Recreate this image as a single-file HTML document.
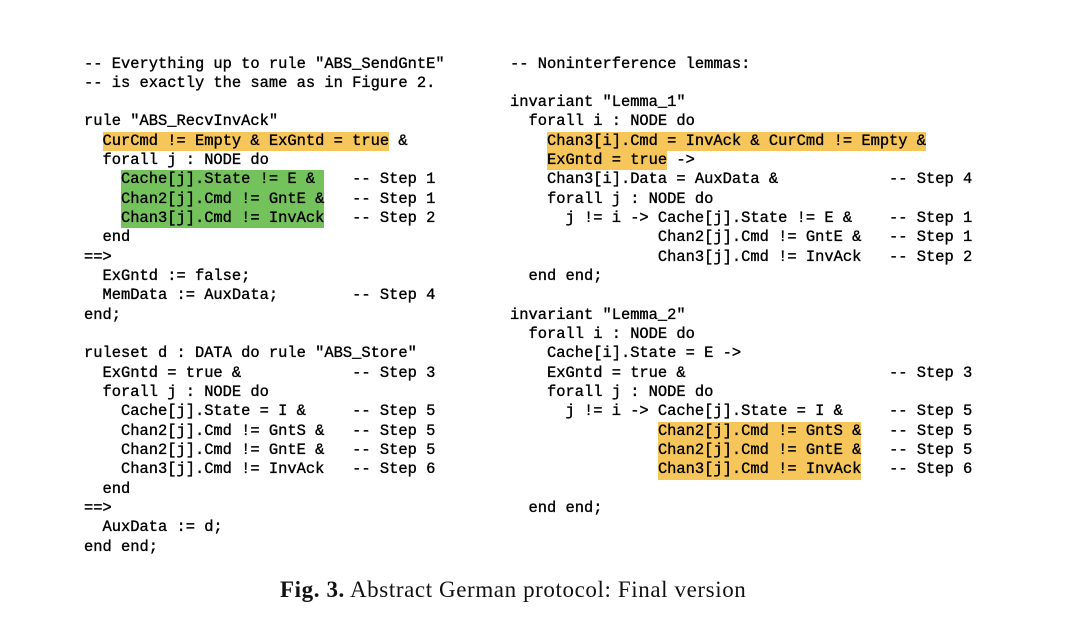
<!DOCTYPE html>
<html><head><meta charset="utf-8">
<style>
html,body{margin:0;padding:0;background:#fff;}
body{width:1066px;height:624px;position:relative;overflow:hidden;}
.col{position:absolute;top:54.5px;font-family:"Liberation Mono",monospace;font-size:15.42px;color:#000;-webkit-text-stroke:0.35px #000;}
.l{white-space:pre;height:19.33px;line-height:19.33px;}
.o{background:#f7c65b;display:inline-block;height:19.33px;vertical-align:top;}
.g{background:#74c25c;display:inline-block;height:19.33px;vertical-align:top;}
.cap{position:absolute;left:280px;top:577px;font-family:"Liberation Serif",serif;font-size:23px;letter-spacing:0.6px;color:#111;white-space:nowrap;}
</style></head><body>
<div class="col" style="left:84px">
<div class="l">-- Everything up to rule "ABS_SendGntE"</div>
<div class="l">-- is exactly the same as in Figure 2.</div>
<div class="l"> </div>
<div class="l">rule "ABS_RecvInvAck"</div>
<div class="l">  <span class="o">CurCmd != Empty &amp; ExGntd = true</span> &amp;</div>
<div class="l">  forall j : NODE do</div>
<div class="l">    <span class="g">Cache[j].State != E &amp; </span>   -- Step 1</div>
<div class="l">    <span class="g">Chan2[j].Cmd != GntE &amp;</span>   -- Step 1</div>
<div class="l">    <span class="g">Chan3[j].Cmd != InvAck</span>   -- Step 2</div>
<div class="l">  end</div>
<div class="l">==&gt;</div>
<div class="l">  ExGntd := false;</div>
<div class="l">  MemData := AuxData;        -- Step 4</div>
<div class="l">end;</div>
<div class="l"> </div>
<div class="l">ruleset d : DATA do rule "ABS_Store"</div>
<div class="l">  ExGntd = true &amp;            -- Step 3</div>
<div class="l">  forall j : NODE do</div>
<div class="l">    Cache[j].State = I &amp;     -- Step 5</div>
<div class="l">    Chan2[j].Cmd != GntS &amp;   -- Step 5</div>
<div class="l">    Chan2[j].Cmd != GntE &amp;   -- Step 5</div>
<div class="l">    Chan3[j].Cmd != InvAck   -- Step 6</div>
<div class="l">  end</div>
<div class="l">==&gt;</div>
<div class="l">  AuxData := d;</div>
<div class="l">end end;</div>
</div>
<div class="col" style="left:510px">
<div class="l">-- Noninterference lemmas:</div>
<div class="l"> </div>
<div class="l">invariant "Lemma_1"</div>
<div class="l">  forall i : NODE do</div>
<div class="l">    <span class="o">Chan3[i].Cmd = InvAck &amp; CurCmd != Empty &amp;</span></div>
<div class="l">    <span class="o">ExGntd = true</span> -&gt;</div>
<div class="l">    Chan3[i].Data = AuxData &amp;            -- Step 4</div>
<div class="l">    forall j : NODE do</div>
<div class="l">      j != i -&gt; Cache[j].State != E &amp;    -- Step 1</div>
<div class="l">                Chan2[j].Cmd != GntE &amp;   -- Step 1</div>
<div class="l">                Chan3[j].Cmd != InvAck   -- Step 2</div>
<div class="l">  end end;</div>
<div class="l"> </div>
<div class="l">invariant "Lemma_2"</div>
<div class="l">  forall i : NODE do</div>
<div class="l">    Cache[i].State = E -&gt;</div>
<div class="l">    ExGntd = true &amp;                      -- Step 3</div>
<div class="l">    forall j : NODE do</div>
<div class="l">      j != i -&gt; Cache[j].State = I &amp;     -- Step 5</div>
<div class="l">                <span class="o">Chan2[j].Cmd != GntS &amp;</span>   -- Step 5</div>
<div class="l">                <span class="o">Chan2[j].Cmd != GntE &amp;</span>   -- Step 5</div>
<div class="l">                <span class="o">Chan3[j].Cmd != InvAck</span>   -- Step 6</div>
<div class="l"> </div>
<div class="l">  end end;</div>
</div>
<div class="cap"><b>Fig. 3.</b> Abstract German protocol: Final version</div>
</body></html>
